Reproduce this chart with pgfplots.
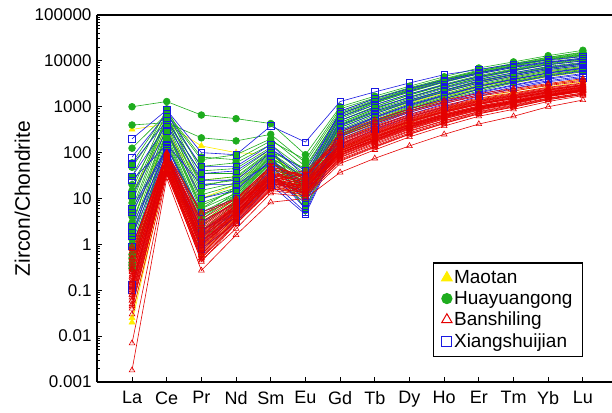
\documentclass[border=0pt]{standalone}
\usepackage{fontspec}
\setmainfont{Liberation Sans}
\usepackage{pgfplots}
\usepackage{pgfplotstable}
\pgfplotsset{compat=1.18}

\definecolor{mtyellow}{RGB}{255,238,0}
\definecolor{hygreen}{RGB}{30,172,30}
\definecolor{bsred}{RGB}{228,0,0}
\definecolor{xsblue}{RGB}{25,25,225}

% Chondrite-normalised zircon REE, one row per analysis
\pgfplotstableread{
La Ce Pr Nd Sm Eu Gd Tb Dy Ho Er Tm Yb Lu
320 420 140 100 90 25 300 600 1200 2000 3500 4500 6000 7500
13 350 10 20 40 15 250 500 1000 1800 3000 4000 5500 7000
0.025 60 0.8 5 25 12 120 250 500 900 1500 2200 3000 4000
0.02 45 0.6 4 20 10 110 220 450 800 1350 2000 2700 3500
0.5 150 3 10 30 14 180 380 800 1400 2400 3300 4500 5800
3 250 25 30 50 18 200 420 900 1600 2700 3800 5000 6500
}\maotan

\pgfplotstableread{
La Ce Pr Nd Sm Eu Gd Tb Dy Ho Er Tm Yb Lu
1000 1300 660 550 430 90 1000 1700 2800 4500 7000 9500 13000 17000
400 450 210 180 250 60 800 1500 2500 4000 6000 8500 12000 15000
125 700 70 90 200 50 700 1300 2300 3700 5600 7800 11000 13500
48 600 50 60 150 40 600 1200 2100 3400 5200 7200 10000 12500
20 500 35 35 120 35 550 1100 1900 3100 4800 6700 9300 11500
8 650 20 25 100 30 500 1000 1800 2900 4500 6300 8700 10800
6 550 12 20 90 28 450 900 1600 2700 4200 6000 8200 10000
2.5 400 8 15 80 25 420 850 1500 2500 3900 5500 7600 9300
1.3 300 5 12 70 22 400 800 1400 2300 3700 5200 7200 8800
0.5 200 3 10 60 20 380 750 1300 2200 3500 5000 6900 8500
0.3 120 2 8 50 18 350 700 1250 2100 3300 4700 6500 8000
1.5 250 4 14 65 15 320 650 1150 1900 3100 4400 6100 7600
15 800 25 30 110 12 300 600 1100 1800 2900 4200 5800 7200
30 900 40 45 130 10 280 560 1000 1700 2700 3900 5500 6900
4 350 6 18 85 8 260 520 950 1600 2500 3700 5200 6500
0.8 180 2.5 9 55 6 240 480 880 1500 2400 3500 4900 6200
10 500 15 22 95 5.5 220 450 820 1400 2200 3300 4600 5800
0.4 100 1.5 7 45 25 600 1200 2100 3500 5400 7600 10500 13000
3 300 7 16 75 30 650 1250 2200 3600 5500 7700 10800 13500
60 750 80 70 180 70 900 1550 2600 4100 6300 8800 12000 15500
0.6 150 4 11 60 22 450 900 1650 2700 4300 6100 8400 10500
2 280 6 13 70 16 380 760 1350 2250 3600 5100 7000 8700
0.35 90 1.2 6 40 20 500 1000 1800 3000 4600 6500 9000 11000
5 450 10 17 80 9 230 480 900 1500 2400 3500 4900 6200
1 220 3.5 12 62 26 700 1350 2350 3800 5800 8000 11200 14000
12 600 18 28 105 45 750 1400 2400 3900 6000 8300 11500 14500
}\huayuan

\pgfplotstableread{
La Ce Pr Nd Sm Eu Gd Tb Dy Ho Er Tm Yb Lu
200 850 100 90 380 170 1300 2100 3300 5000 6500 8500 10500 12500
80 700 50 50 150 30 800 1500 2500 3800 5500 7500 9500 11500
30 400 25 25 100 25 600 1100 1900 3000 4500 6200 8200 10000
25 150 20 20 60 18 400 800 1400 2300 3600 5000 6800 8500
6 130 5 10 50 12 300 600 1100 1800 2800 4000 5500 7000
5 120 2 6 35 10 250 500 900 1500 2400 3400 4700 6000
2.5 110 1.5 5 30 8 220 430 800 1300 2100 3000 4200 5300
1.5 100 1 4 25 5 200 400 750 1250 2000 2900 4000 5000
0.1 90 0.8 3 20 4.5 180 360 680 1150 1850 2700 3700 4600
0.13 80 1.2 4 22 15 150 320 600 1000 1700 2500 3500 4300
12 300 10 15 70 20 500 950 1600 2600 4000 5500 7400 9000
1.8 140 3 8 40 6 350 700 1300 2100 3300 4700 6400 8000
0.9 100 2 5 30 12 280 580 1050 1750 2800 4000 5400 6800
55 500 35 40 120 40 700 1300 2200 3500 5200 7200 9200 11000
}\xiangshui

\pgfplotstableread{
La Ce Pr Nd Sm Eu Gd Tb Dy Ho Er Tm Yb Lu
0.0018 28 0.27 1.6 8.3 10 37 75 140 250 420 620 1000 1400
0.007 35 0.45 2.2 13 11 58 115 220 380 620 880 1300 1750
0.045 42 0.42 2.8 16 14 72 140 270 460 740 1020 1480 1900
0.9 80 3.2 8 35 22 120 240 450 740 1120 1500 2000 2500
0.12 55 0.9 4.5 22 15 90 180 340 570 880 1200 1700 2200
0.3 65 1.4 6 28 18 110 210 400 650 980 1300 1800 2300
0.06 48 0.6 3.5 19 13 80 160 300 500 790 1100 1550 2000
0.5 90 2.2 7.5 34 25 150 290 540 880 1300 1700 2300 2900
0.08 38 0.7 3.8 20 14 95 190 360 600 920 1250 1750 2250
0.2 70 1.8 7 30 20 130 260 480 790 1180 1550 2100 2650
0.04 45 0.5 3 17 12 65 130 250 430 700 980 1420 1850
0.7 100 4.5 9.5 45 30 180 340 620 980 1420 1850 2450 3050
0.15 60 1.1 5 25 16 100 200 380 630 960 1300 1800 2300
0.25 75 1.6 6.5 30 21 140 270 500 820 1220 1600 2150 2700
0.35 85 2.6 8.5 38 26 160 310 570 920 1350 1750 2350 2950
0.1 50 0.8 4 21 15 85 170 320 540 840 1150 1650 2150
0.05 40 0.55 3.2 18 13 78 150 290 490 770 1060 1520 1980
0.6 95 3.5 10 48 32 200 380 680 1080 1550 2000 2650 3300
0.18 62 1.3 5.5 26 18 105 210 390 640 970 1310 1820 2320
0.08 52 0.75 4.2 24 16 120 230 430 700 1050 1420 1950 2450
0.4 78 2.0 7.2 32 23 145 280 520 850 1260 1650 2220 2780
0.13 58 1.0 4.8 23 17 95 185 350 580 890 1210 1700 2200
0.3 72 1.5 6.2 29 12 110 220 410 670 1000 1350 1850 2380
0.07 46 0.65 3.6 20 20 125 250 470 770 1150 1520 2060 2600
0.22 66 1.2 5.2 27 19 115 225 420 690 1030 1380 1900 2420
0.5 88 2.8 9 42 28 230 430 760 1200 1700 2200 2900 3600
0.16 54 1.15 5 24 35 170 330 600 950 1380 1800 2400 3000
0.09 44 0.85 4.4 22 14 88 175 330 550 860 1180 1680 2180
0.45 82 2.4 8 36 24 155 300 550 890 1310 1720 2300 2880
0.28 68 1.7 6.8 31 40 190 360 650 1020 1480 1920 2560 3200
0.11 50 0.95 4.6 23 16 100 195 370 610 930 1260 1760 2280
0.06 36 0.6 3.4 60 26 250 470 820 1280 1800 2350 3050 3800
0.35 76 1.9 7 33 22 135 265 490 800 1190 1580 2120 2680
0.2 64 1.35 5.8 27 17 108 215 400 660 990 1330 1840 2360
0.8 98 5 10 50 30 280 520 900 1400 1950 2500 3200 4100
0.14 56 1.05 5 25 18 98 190 365 600 920 1250 1760 2270
0.03 33 0.5 2.8 15 12 68 135 255 440 710 990 1430 1860
0.26 70 1.6 6.4 30 20 128 250 465 760 1130 1500 2030 2570
}\banshi

% one column per analysis, one row per element
\pgfplotstabletranspose{\maotanT}{\maotan}
\pgfplotstabletranspose{\huayuanT}{\huayuan}
\pgfplotstabletranspose{\xiangshuiT}{\xiangshui}
\pgfplotstabletranspose{\banshiT}{\banshi}

\begin{document}
\begin{tikzpicture}
\begin{axis}[
  name=ax,
  scale only axis,
  width=515pt, height=367pt,
  ymode=log,
  xmin=-1.01, xmax=13.84,
  ymin=0.001, ymax=100000,
  axis x line*=box, axis y line*=left,
  axis line style={line width=1.4pt},
  xtick={0,...,13},
  xticklabels={La,Ce,Pr,Nd,Sm,Eu,Gd,Tb,Dy,Ho,Er,Tm,Yb,Lu},
  xtick pos=left,
  ytick={0.001,0.01,0.1,1,10,100,1000,10000,100000},
  yticklabels={0.001,0.01,0.1,1,10,100,1000,10000,100000},
  tick align=inside,
  major tick length=5pt, minor tick length=3pt,
  tick style={black, line width=1pt},
  /pgf/number format/assume math mode=true,
  xticklabel style={font=\fontsize{18}{20}\selectfont, yshift=-6pt},
  yticklabel style={font=\fontsize{17}{19}\selectfont, xshift=-2pt},
  ylabel={Zircon/Chondrite},
  ylabel style={font=\fontsize{21}{23}\selectfont, at={(axis description cs:-0.145,0.5)}, anchor=center},
  legend style={at={(axis description cs:0.9437,0.0681)}, anchor=south east,
    draw=black, line width=1.2pt, font=\fontsize{19}{21}\selectfont,
    inner xsep=8pt, inner ysep=5pt, row sep=1pt,
    nodes={inner ysep=2.6pt}},
  legend cell align=left,
  mtline/.style={forget plot, color=mtyellow, line width=0.6pt, mark=triangle*, mark size=3.4pt, mark options={solid, fill=mtyellow}},
  hyline/.style={forget plot, color=hygreen, line width=0.6pt, mark=*, mark size=3.4pt, mark options={solid, fill=hygreen}},
  xsline/.style={forget plot, color=xsblue, line width=0.6pt, mark=square, mark size=3.2pt, mark options={solid, line width=0.7pt}},
  bsline/.style={forget plot, color=bsred, line width=0.6pt, mark=triangle, mark size=3.3pt, mark options={solid, line width=0.6pt}},
]
\pgfplotsinvokeforeach{1,...,6}{
  \addplot[mtline] table[x expr=\coordindex, y index=#1] {\maotanT};
}
\pgfplotsinvokeforeach{1,...,26}{
  \addplot[hyline] table[x expr=\coordindex, y index=#1] {\huayuanT};
}
\pgfplotsinvokeforeach{1,...,14}{
  \addplot[xsline] table[x expr=\coordindex, y index=#1] {\xiangshuiT};
}
\pgfplotsinvokeforeach{1,...,38}{
  \addplot[bsline] table[x expr=\coordindex, y index=#1] {\banshiT};
}

\addlegendimage{only marks, mark=triangle*, mark size=6pt, color=mtyellow, fill=mtyellow}
\addlegendentry{Maotan}
\addlegendimage{only marks, mark=*, mark size=5pt, color=hygreen, fill=hygreen}
\addlegendentry{Huayuangong}
\addlegendimage{only marks, mark=triangle, mark size=6pt, color=bsred, line width=1pt}
\addlegendentry{Banshiling}
\addlegendimage{only marks, mark=square, mark size=5pt, color=xsblue, line width=1pt}
\addlegendentry{Xiangshuijian}
\end{axis}
\pgfresetboundingbox
\path[use as bounding box] ([xshift=-97pt,yshift=-30pt]ax.south west) rectangle ([yshift=15pt]ax.north east);
\end{tikzpicture}
\end{document}
